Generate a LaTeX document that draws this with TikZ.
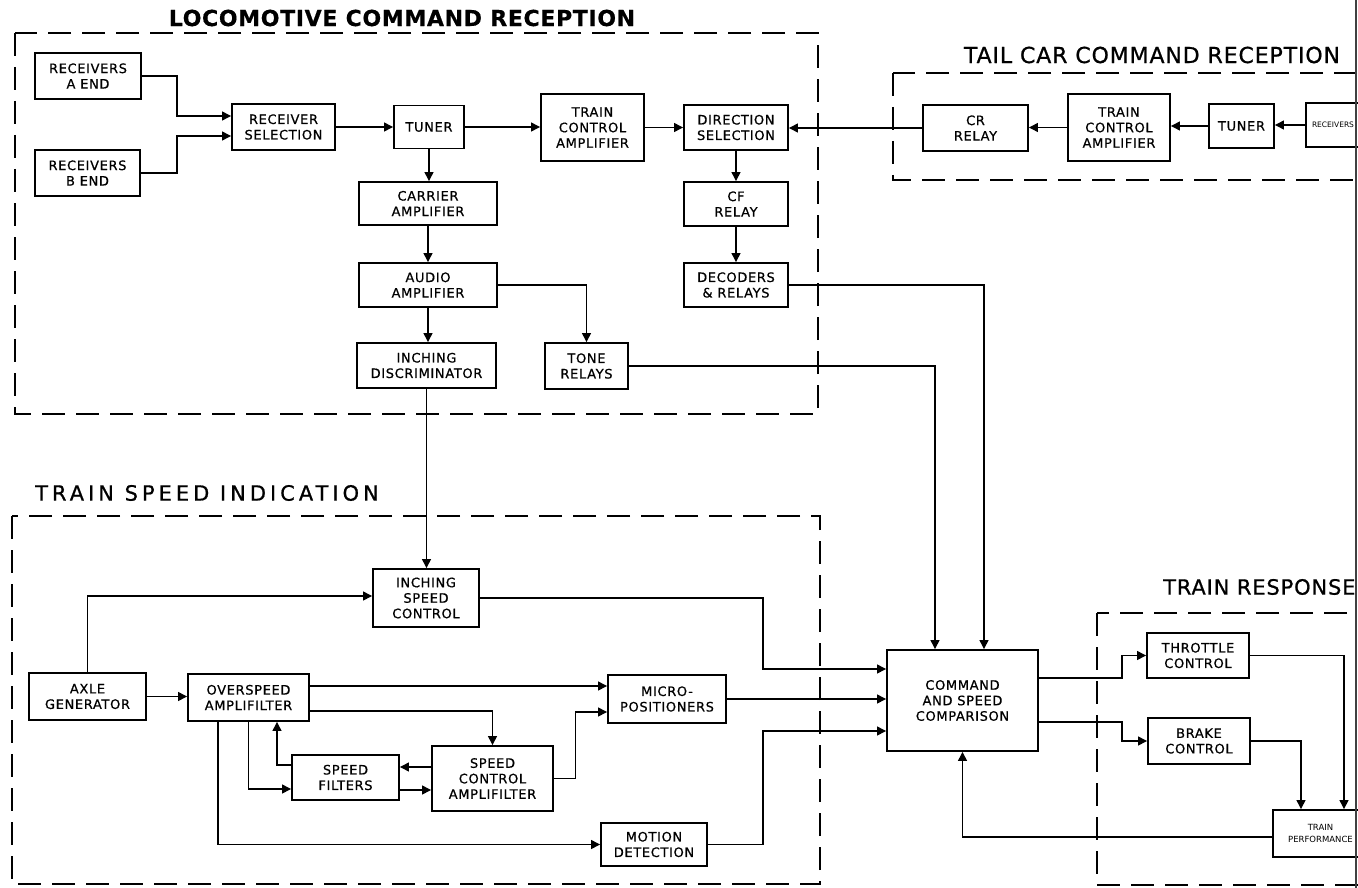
\documentclass[tikz,border=0pt]{standalone}
\usepackage{fontspec}
\usepackage{graphicx}
\setmainfont{DejaVu Sans}
\usetikzlibrary{arrows.meta}
\begin{document}
\begin{tikzpicture}[x=1pt,y=-1pt,
  blk/.style={draw, line width=1.9pt, align=center, inner sep=0pt,
    font=\fontsize{13}{15.5}\selectfont\addfontfeatures{LetterSpace=5,FakeBold=0.6}},
  smallblk/.style={draw, line width=1.9pt, align=center, inner sep=0pt,
    font=\fontsize{8.5}{12}\selectfont},
  arr/.style={line width=1.3pt, -{Triangle[length=9pt,width=9pt]}},
  grp/.style={line width=2.4pt, dash pattern=on 23pt off 11pt},
  ttl/.style={inner sep=0pt, font=\fontsize{21}{21}\selectfont\addfontfeatures{LetterSpace=4,FakeBold=0.8}}
  ]
\useasboundingbox (0,0) rectangle (1358,888);
\clip (0,0) rectangle (1358,888);

% group frames
\draw[grp] (15,33) rectangle (818,414);
\draw[grp] (893,73) rectangle (1375,180);
\draw[grp] (12,516) rectangle (820,884);
\draw[grp] (1097,613) rectangle (1375,885);

% titles
\node[inner sep=0pt, font=\bfseries\fontsize{22}{22}\selectfont\addfontfeatures{LetterSpace=3,FakeBold=0.5}] (tloco) at (402,18) {LOCOMOTIVE COMMAND RECEPTION};
\node[ttl, font=\fontsize{22}{22}\selectfont\addfontfeatures{LetterSpace=4,FakeBold=0.8}] (ttail) at (1152,55) {TAIL CAR COMMAND RECEPTION};
\node[ttl, font=\fontsize{21}{21}\selectfont\addfontfeatures{LetterSpace=19,FakeBold=0.8}] (tspeed) at (207,493) {TRAIN SPEED INDICATION};
\node[ttl, anchor=west] (tresp) at (1163,587) {TRAIN RESPONSE};

% locomotive command reception
\node[blk, minimum width=106pt, minimum height=46pt] (recA) at (88,76) {RECEIVERS\\A END};
\node[blk, minimum width=105pt, minimum height=46pt] (recB) at (87.5,173) {RECEIVERS\\B END};
\node[blk, minimum width=103pt, minimum height=46pt] (rsel) at (283.5,127) {RECEIVER\\SELECTION};
\node[blk, minimum width=70pt, minimum height=43pt] (tuner) at (429,127) {TUNER};
\node[blk, minimum width=138pt, minimum height=43pt] (carrier) at (428,203.5) {CARRIER\\AMPLIFIER};
\node[blk, minimum width=138pt, minimum height=44pt] (audio) at (428,285) {AUDIO\\AMPLIFIER};
\node[blk, minimum width=139pt, minimum height=45pt] (idisc) at (426.5,365.5) {INCHING\\DISCRIMINATOR};
\node[blk, minimum width=83pt, minimum height=46pt] (tone) at (586.5,366) {TONE\\RELAYS};
\node[blk, minimum width=103pt, minimum height=67pt] (tca) at (592.5,127.5) {TRAIN\\CONTROL\\AMPLIFIER};
\node[blk, minimum width=104pt, minimum height=45pt] (dirsel) at (736,127.5) {DIRECTION\\SELECTION};
\node[blk, minimum width=104pt, minimum height=44pt] (cf) at (736,204) {CF\\RELAY};
\node[blk, minimum width=104pt, minimum height=44pt] (dec) at (736,285) {DECODERS\\\& RELAYS};

% tail car command reception
\node[blk, minimum width=105pt, minimum height=46pt] (cr) at (975.5,128) {CR\\RELAY};
\node[blk, minimum width=102pt, minimum height=67pt] (tca2) at (1119,127.5) {TRAIN\\CONTROL\\AMPLIFIER};
\node[blk, minimum width=65pt, minimum height=44pt] (tuner2) at (1241.5,126) {TUNER};
\node[smallblk, font=\fontsize{7.5}{10}\selectfont, minimum width=54pt, minimum height=44pt] (rec2) at (1333,125) {RECEIVERS};

% train speed indication
\node[blk, minimum width=106pt, minimum height=58pt] (isc) at (426,598) {INCHING\\SPEED\\CONTROL};
\node[blk, minimum width=117pt, minimum height=47pt] (axle) at (87.5,696.5) {AXLE\\GENERATOR};
\node[blk, minimum width=121pt, minimum height=47pt] (ovs) at (248.5,697.5) {OVERSPEED\\AMPLIFILTER};
\node[blk, minimum width=107pt, minimum height=45pt] (sf) at (345.5,777.5) {SPEED\\FILTERS};
\node[blk, minimum width=121pt, minimum height=65pt] (sca) at (492.5,778.5) {SPEED\\CONTROL\\AMPLIFILTER};
\node[blk, minimum width=118pt, minimum height=48pt] (micro) at (667,699) {MICRO-\\POSITIONERS};
\node[blk, minimum width=106pt, minimum height=43pt] (motion) at (654,844.5) {MOTION\\DETECTION};

% comparison and train response
\node[blk, minimum width=151pt, minimum height=101pt] (cmd) at (962.5,700.5) {COMMAND\\AND SPEED\\COMPARISON};
\node[blk, minimum width=102pt, minimum height=45pt] (thr) at (1198,655.5) {THROTTLE\\CONTROL};
\node[blk, minimum width=102pt, minimum height=46pt] (brk) at (1199,741) {BRAKE\\CONTROL};
\node[smallblk, minimum width=95pt, minimum height=47pt] (perf) at (1320.5,833.5) {TRAIN\\PERFORMANCE};

% connectors: locomotive
\draw[arr] (recA.east) -| (177,116) -- ([yshift=11pt]rsel.west);
\draw[arr] (recB.east) -| (177,136) -- ([yshift=-9pt]rsel.west);
\draw[arr] (rsel.east) -- (tuner.west |- rsel.east);
\draw[arr] (tuner.east) -- (tca.west |- tuner.east);
\draw[arr] (tca.east) -- (dirsel.west |- tca.east);
\draw[arr] (tuner.south) -- (tuner.south |- carrier.north);
\draw[arr] (carrier.south) -- (audio.north);
\draw[arr] (audio.south) -- (audio.south |- idisc.north);
\draw[arr] (audio.east) -| (tone.north);
\draw[arr] (dirsel.south) -- (cf.north);
\draw[arr] (cf.south) -- (dec.north);
\draw[arr] (dec.east) -| ([xshift=21.5pt]cmd.north);
\draw[arr] (tone.east) -| ([xshift=-27.5pt]cmd.north);

% connectors: tail car
\draw[arr] (rec2.west) -- (tuner2.east |- rec2.west);
\draw[arr] (tuner2.west) -- (tca2.east |- tuner2.west);
\draw[arr] (tca2.west) -- (cr.east |- tca2.west);
\draw[arr] (cr.west) -- (dirsel.east |- cr.west);

% connectors: speed indication
\draw[arr] (idisc.south) -- (idisc.south |- isc.north);
\draw[arr] (axle.north) |- ([yshift=2pt]isc.west);
\draw[arr] (axle.east) -- (ovs.west |- axle.east);
\draw[arr] ([yshift=11.5pt]ovs.east) -- ([yshift=13pt]micro.west);
\draw[arr] ([yshift=-13.5pt]ovs.east) -| (sca.north);
\draw[arr] (ovs.south) |- ([yshift=-11.5pt]sf.west);
\draw[arr] ([yshift=12.5pt]sf.west) -| ([xshift=28.5pt]ovs.south);
\draw[arr] ([yshift=11.5pt]sca.west) -- ([yshift=10.5pt]sf.east);
\draw[arr] ([yshift=-12.5pt]sf.east) -- ([yshift=-11.5pt]sca.west);
\draw[arr] ([xshift=-30.5pt]ovs.south) |- (motion.west);
\draw[arr] (sca.east) -- ++(21.5,0) |- ([yshift=-13pt]micro.west);
\draw[arr] (isc.east) -- (763,598) |- ([yshift=31.5pt]cmd.west);
\draw[arr] (micro.east) -- (cmd.west |- micro.east);
\draw[arr] (motion.east) -- (763,844.5) |- ([yshift=-30.5pt]cmd.west);

% connectors: train response
\draw[arr] ([yshift=22.5pt]cmd.east) -- (1122,678) |- (thr.west);
\draw[arr] ([yshift=-21.5pt]cmd.east) -- (1122,722) |- (brk.west);
\draw[arr] (thr.east) -| ([xshift=23.5pt]perf.north);
\draw[arr] (brk.east) -| ([xshift=-19.5pt]perf.north);
\draw[arr] ([yshift=-3.5pt]perf.west) -| (cmd.south);

% page edge
\draw[line width=2pt, black!75] (1356,0) -- (1356,888);
\end{tikzpicture}
\end{document}
